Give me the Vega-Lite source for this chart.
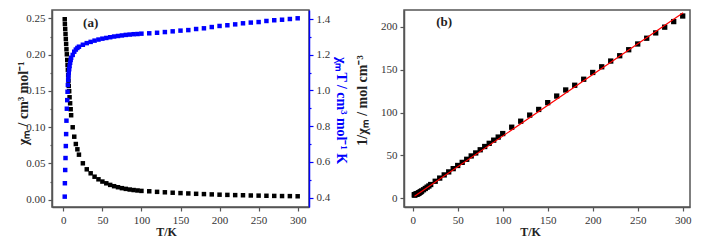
{
  "$schema": "https://vega.github.io/schema/vega-lite/v6.json",
  "autosize": {"type": "none"},
  "padding": {"left": 52, "top": 10, "right": 649, "bottom": 234},
  "background": "white",
  "bounds": "flush",
  "spacing": 95,
  "config": {
    "font": "Liberation Serif",
    "view": {"stroke": "#555", "strokeWidth": 1.5},
    "axis": {
      "grid": false,
      "domainColor": "#555",
      "domainWidth": 1.5,
      "tickColor": "#555",
      "tickWidth": 1.2,
      "labelFont": "Liberation Serif",
      "labelFontSize": 11,
      "labelColor": "#333",
      "labelPadding": 3,
      "labelOverlap": false,
      "labelFlush": false,
      "titleFont": "Liberation Serif",
      "titleFontSize": 14,
      "titleFontWeight": "bold",
      "titleColor": "#222"
    }
  },
  "datasets": {
    "mag": [
      {"T": 1.8, "chi": 0.249, "chiT": 0.406, "inv": 4.0},
      {"T": 2.0, "chi": 0.2424, "chiT": 0.481, "inv": 4.1},
      {"T": 2.4, "chi": 0.2355, "chiT": 0.555, "inv": 4.3},
      {"T": 2.8, "chi": 0.2286, "chiT": 0.622, "inv": 4.4},
      {"T": 3.2, "chi": 0.2217, "chiT": 0.689, "inv": 4.5},
      {"T": 3.6, "chi": 0.2148, "chiT": 0.756, "inv": 4.7},
      {"T": 4.0, "chi": 0.2075, "chiT": 0.831, "inv": 4.8},
      {"T": 4.5, "chi": 0.2006, "chiT": 0.898, "inv": 5.0},
      {"T": 5.0, "chi": 0.1928, "chiT": 0.946, "inv": 5.2},
      {"T": 5.4, "chi": 0.1859, "chiT": 0.993, "inv": 5.4},
      {"T": 5.8, "chi": 0.179, "chiT": 1.031, "inv": 5.6},
      {"T": 6.2, "chi": 0.1716, "chiT": 1.059, "inv": 5.8},
      {"T": 6.6, "chi": 0.1642, "chiT": 1.081, "inv": 6.1},
      {"T": 7.0, "chi": 0.1569, "chiT": 1.1, "inv": 6.4},
      {"T": 7.5, "chi": 0.1496, "chiT": 1.119, "inv": 6.7},
      {"T": 8.0, "chi": 0.1413, "chiT": 1.137, "inv": 7.1},
      {"T": 8.7, "chi": 0.133, "chiT": 1.155, "inv": 7.5},
      {"T": 9.4, "chi": 0.1248, "chiT": 1.171, "inv": 8.0},
      {"T": 10, "chi": 0.1165, "chiT": 1.183, "inv": 8.6},
      {"T": 12, "chi": 0.0999, "chiT": 1.199, "inv": 10.0},
      {"T": 14, "chi": 0.0869, "chiT": 1.217, "inv": 11.5},
      {"T": 16, "chi": 0.0768, "chiT": 1.229, "inv": 13.0},
      {"T": 18, "chi": 0.0695, "chiT": 1.238, "inv": 14.4},
      {"T": 20, "chi": 0.0621, "chiT": 1.245, "inv": 16.1},
      {"T": 25, "chi": 0.0502, "chiT": 1.256, "inv": 19.9},
      {"T": 30, "chi": 0.0419, "chiT": 1.265, "inv": 23.6},
      {"T": 35, "chi": 0.0364, "chiT": 1.272, "inv": 27.3},
      {"T": 40, "chi": 0.0317, "chiT": 1.279, "inv": 30.8},
      {"T": 45, "chi": 0.0281, "chiT": 1.285, "inv": 34.6},
      {"T": 50, "chi": 0.025, "chiT": 1.29, "inv": 38.3},
      {"T": 55, "chi": 0.0226, "chiT": 1.294, "inv": 41.9},
      {"T": 60, "chi": 0.0204, "chiT": 1.298, "inv": 45.5},
      {"T": 65, "chi": 0.0186, "chiT": 1.302, "inv": 49.4},
      {"T": 70, "chi": 0.0172, "chiT": 1.305, "inv": 52.9},
      {"T": 75, "chi": 0.0159, "chiT": 1.308, "inv": 56.6},
      {"T": 80, "chi": 0.0149, "chiT": 1.311, "inv": 60.4},
      {"T": 85, "chi": 0.014, "chiT": 1.313, "inv": 64.1},
      {"T": 90, "chi": 0.0133, "chiT": 1.315, "inv": 67.8},
      {"T": 95, "chi": 0.0127, "chiT": 1.316, "inv": 71.4},
      {"T": 100, "chi": 0.0121, "chiT": 1.318, "inv": 75.5},
      {"T": 110, "chi": 0.0116, "chiT": 1.32, "inv": 82.9},
      {"T": 120, "chi": 0.0108, "chiT": 1.323, "inv": 89.9},
      {"T": 130, "chi": 0.0102, "chiT": 1.327, "inv": 97.0},
      {"T": 140, "chi": 0.0096, "chiT": 1.331, "inv": 103.6},
      {"T": 150, "chi": 0.0091, "chiT": 1.335, "inv": 111.5},
      {"T": 160, "chi": 0.0086, "chiT": 1.338, "inv": 119.2},
      {"T": 170, "chi": 0.0081, "chiT": 1.344, "inv": 126.3},
      {"T": 180, "chi": 0.0077, "chiT": 1.348, "inv": 131.8},
      {"T": 190, "chi": 0.0073, "chiT": 1.355, "inv": 138.8},
      {"T": 200, "chi": 0.0069, "chiT": 1.361, "inv": 146.7},
      {"T": 210, "chi": 0.0066, "chiT": 1.365, "inv": 153.3},
      {"T": 220, "chi": 0.0063, "chiT": 1.37, "inv": 160.0},
      {"T": 230, "chi": 0.0061, "chiT": 1.376, "inv": 166.2},
      {"T": 240, "chi": 0.0058, "chiT": 1.38, "inv": 173.2},
      {"T": 250, "chi": 0.0056, "chiT": 1.383, "inv": 179.9},
      {"T": 260, "chi": 0.0054, "chiT": 1.389, "inv": 186.6},
      {"T": 270, "chi": 0.0052, "chiT": 1.393, "inv": 192.8},
      {"T": 280, "chi": 0.005, "chiT": 1.396, "inv": 199.5},
      {"T": 290, "chi": 0.0049, "chiT": 1.4, "inv": 206.0},
      {"T": 300, "chi": 0.0047, "chiT": 1.404, "inv": 212.5}
    ],
    "fit": [
      {"T": 2, "fit": 2.3},
      {"T": 300.5, "fit": 216.2}
    ],
    "lab": [
      {"T": 35, "chi": 0.244, "inv": 205}
    ]
  },
  "hconcat": [
    {
      "width": 257,
      "height": 197,
      "layer": [
        {
          "data": {"name": "mag"},
          "mark": {"type": "point", "shape": "square", "filled": true, "size": 20, "color": "#000000", "opacity": 1},
          "encoding": {
            "x": {
              "field": "T", "type": "quantitative",
              "scale": {"domain": [-14.5, 314.5], "nice": false, "zero": false},
              "axis": {
                "values": [0, 25, 50, 75, 100, 125, 150, 175, 200, 225, 250, 275, 300],
                "labelExpr": "datum.value % 50 === 0 ? datum.label : ''",
                "tickSize": {"condition": {"test": "datum.value % 50 === 0", "value": 4}, "value": 2},
                "title": "T/K",
                "titleFontSize": 12,
                "titleX": 114, "titleY": 24, "titleBaseline": "middle", "titleAlign": "center"
              }
            },
            "y": {
              "field": "chi", "type": "quantitative",
              "scale": {"domain": [-0.0101, 0.2617], "nice": false, "zero": false},
              "axis": {
                "orient": "left",
                "values": [0, 0.025, 0.05, 0.075, 0.1, 0.125, 0.15, 0.175, 0.2, 0.225, 0.25],
                "format": ".2f",
                "labelOverlap": false,
                "labelExpr": "indexof([0, 0.05, 0.1, 0.15, 0.2, 0.25], datum.value) >= 0 ? datum.label : ''",
                "tickSize": {"condition": {"test": "indexof([0, 0.05, 0.1, 0.15, 0.2, 0.25], datum.value) >= 0", "value": 4}, "value": 2},
                "title": "χₘ / cm³ mol⁻¹",
                "titleAngle": -90, "titleX": -29, "titleY": 93, "titleBaseline": "middle", "titleAlign": "center"
              }
            }
          }
        },
        {
          "data": {"name": "mag"},
          "mark": {"type": "point", "shape": "square", "filled": true, "size": 20, "color": "#0000ff", "opacity": 1},
          "encoding": {
            "x": {"field": "T", "type": "quantitative"},
            "y": {
              "field": "chiT", "type": "quantitative",
              "scale": {"domain": [0.348, 1.4504], "nice": false, "zero": false},
              "axis": {
                "orient": "right",
                "values": [0.4, 0.5, 0.6, 0.7, 0.8, 0.9, 1.0, 1.1, 1.2, 1.3, 1.4],
                "format": ".1f",
                "labelOverlap": false,
                "labelExpr": "indexof([0.4, 0.6, 0.8, 1.0, 1.2, 1.4], datum.value) >= 0 ? datum.label : ''",
                "tickSize": {"condition": {"test": "indexof([0.4, 0.6, 0.8, 1.0, 1.2, 1.4], datum.value) >= 0", "value": 4}, "value": 2},
                "domainColor": "#0000ff",
                "tickColor": "#0000ff",
                "titleColor": "#0000ff",
                "title": "χₘT / cm³ mol⁻¹ K",
                "titleAngle": 90, "titleX": 31, "titleY": 100, "titleBaseline": "middle", "titleAlign": "center"
              }
            }
          }
        },
        {
          "data": {"name": "lab"},
          "mark": {"type": "text", "font": "Liberation Serif", "fontWeight": "bold", "fontSize": 13, "color": "#222", "align": "center", "baseline": "middle"},
          "encoding": {
            "x": {"field": "T", "type": "quantitative"},
            "y": {"field": "chi", "type": "quantitative", "scale": {"domain": [-0.0101, 0.2617], "nice": false, "zero": false}, "axis": null},
            "text": {"value": "(a)"}
          }
        }
      ],
      "resolve": {"scale": {"y": "independent"}, "axis": {"y": "independent"}}
    },
    {
      "width": 286,
      "height": 197,
      "layer": [
        {
          "data": {"name": "mag"},
          "mark": {"type": "point", "shape": "square", "filled": true, "size": 28, "color": "#000000", "opacity": 1},
          "encoding": {
            "x": {
              "field": "T", "type": "quantitative",
              "scale": {"domain": [-9.67, 308.1], "nice": false, "zero": false},
              "axis": {
                "values": [0, 25, 50, 75, 100, 125, 150, 175, 200, 225, 250, 275, 300],
                "labelExpr": "datum.value % 50 === 0 ? datum.label : ''",
                "tickSize": {"condition": {"test": "datum.value % 50 === 0", "value": 4}, "value": 2},
                "title": "T/K",
                "titleFontSize": 12,
                "titleX": 126, "titleY": 24, "titleBaseline": "middle", "titleAlign": "center"
              }
            },
            "y": {
              "field": "inv", "type": "quantitative",
              "scale": {"domain": [-10.1, 219.5], "nice": false, "zero": false},
              "axis": {
                "values": [0, 25, 50, 75, 100, 125, 150, 175, 200],
                "labelExpr": "datum.value % 50 === 0 ? datum.label : ''",
                "tickSize": {"condition": {"test": "datum.value % 50 === 0", "value": 4}, "value": 2},
                "title": "1/χₘ / mol cm⁻³",
                "titleAngle": -90, "titleX": -42, "titleY": 90, "titleBaseline": "middle", "titleAlign": "center"
              }
            }
          }
        },
        {
          "data": {"name": "fit"},
          "mark": {"type": "line", "color": "#ff0000", "strokeWidth": 1.2},
          "encoding": {
            "x": {"field": "T", "type": "quantitative"},
            "y": {"field": "fit", "type": "quantitative"}
          }
        },
        {
          "data": {"name": "lab"},
          "mark": {"type": "text", "font": "Liberation Serif", "fontWeight": "bold", "fontSize": 13, "color": "#222", "align": "center", "baseline": "middle"},
          "encoding": {
            "x": {"field": "T", "type": "quantitative"},
            "y": {"field": "inv", "type": "quantitative"},
            "text": {"value": "(b)"}
          }
        }
      ]
    }
  ]
}
